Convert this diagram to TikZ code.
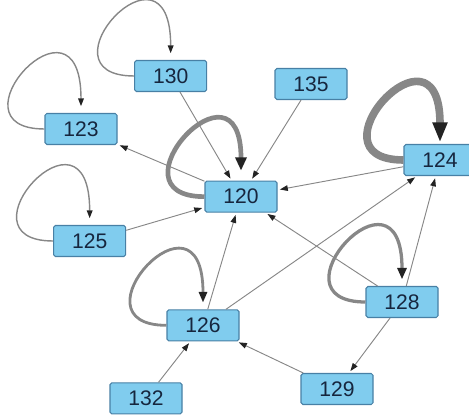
\documentclass[tikz,border=0pt]{standalone}
\usepackage{fontspec}
\setmainfont{Liberation Sans}
\usetikzlibrary{arrows.meta}

\definecolor{boxfill}{RGB}{128,204,238}
\definecolor{boxline}{RGB}{72,128,165}
\definecolor{boxtext}{RGB}{22,38,62}
\definecolor{edgegray}{RGB}{135,135,135}
\definecolor{tipgray}{RGB}{35,35,35}

\begin{document}
\begin{tikzpicture}[
    box/.style={draw=boxline, fill=boxfill, line width=0.9pt, rounded corners=1.5pt,
        minimum width=2.16cm, minimum height=0.93cm, inner sep=0pt,
        text=boxtext, font=\fontsize{18}{20}\selectfont},
    link/.style={draw=edgegray, line width=0.8pt, shorten >=2pt,
        -{Triangle[length=0.24cm, width=0.17cm, color=tipgray]}},
    selfloop/.style={out=180, in=90, out distance=3cm, in distance=4cm}
]
    \useasboundingbox (0,0) rectangle (14.07,12.48);
    % nodes
    \node[box] (n130) at (5.12,10.20) {130};
    \node[box] (n123) at (2.43,8.61) {123};
    \node[box] (n135) at (9.33,9.96) {135};
    \node[box] (n120) at (7.23,6.58) {120};
    \node[box] (n124) at (13.20,7.68) {124};
    \node[box] (n125) at (2.69,5.25) {125};
    \node[box] (n126) at (6.09,2.72) {126};
    \node[box] (n128) at (12.06,3.42) {128};
    \node[box] (n129) at (10.11,0.81) {129};
    \node[box] (n132) at (4.38,0.53) {132};
    % self loops
    \draw[edgegray, line width=1.2pt, shorten >=0.2cm,
        -{Triangle[length=0.24cm, width=0.17cm, color=tipgray]}]
        (n130.west) to[selfloop] (n130.north);
    \draw[edgegray, line width=1.2pt, shorten >=0.2cm,
        -{Triangle[length=0.24cm, width=0.17cm, color=tipgray]}]
        (n123.west) to[selfloop] (n123.north);
    \draw[edgegray, line width=1.2pt, shorten >=0.2cm,
        -{Triangle[length=0.24cm, width=0.17cm, color=tipgray]}]
        (n125.west) to[selfloop] (n125.north);
    \draw[edgegray, line width=2.4pt, shorten >=0.2cm,
        -{Triangle[length=0.32cm, width=0.24cm, color=tipgray]}]
        (n126.west) to[selfloop] (n126.north);
    \draw[edgegray, line width=2.8pt, shorten >=0.2cm,
        -{Triangle[length=0.34cm, width=0.27cm, color=tipgray]}]
        (n128.west) to[selfloop] (n128.north);
    \draw[edgegray, line width=4pt, shorten >=0.3cm,
        -{Triangle[length=0.4cm, width=0.33cm, color=tipgray]}]
        (n120.west) to[selfloop] (n120.north);
    \draw[edgegray, line width=6.5pt, shorten >=0.05cm,
        -{Triangle[length=0.6cm, width=0.42cm, color=tipgray]}]
        (n124.west) to[selfloop] (n124.north);
    % edges
    \draw[link] (n130) -- (n120);
    \draw[link] (n135) -- (n120);
    \draw[link] (n120) -- (n123);
    \draw[link] (n124) -- (n120);
    \draw[link] (n125) -- (n120);
    \draw[link] (n126) -- (n120);
    \draw[link] (n126) -- (n124);
    \draw[link] (n128) -- (n120);
    \draw[link] (n128) -- (n124);
    \draw[link] (n128) -- (n129);
    \draw[link] (n129) -- (n126);
    \draw[link] (n132) -- (n126);
\end{tikzpicture}
\end{document}
